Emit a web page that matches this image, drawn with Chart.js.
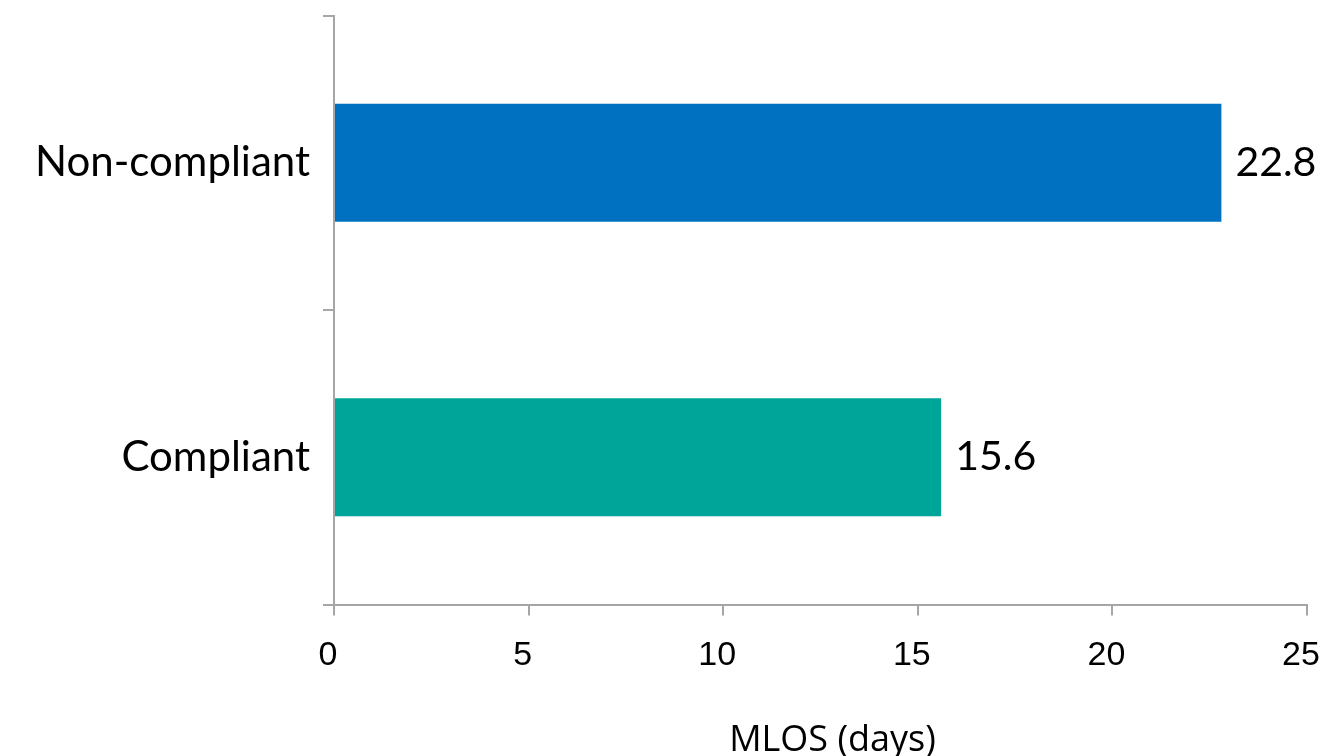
<!DOCTYPE html>
<html><head><meta charset="utf-8">
<script src="https://cdn.jsdelivr.net/npm/chart.js@4"></script>
<style>
html,body{margin:0;padding:0;overflow:hidden;background:#fff;}
#wrap{position:relative;width:1327px;height:756px;}
</style></head>
<body><div id="wrap"><canvas id="c"></canvas></div>
<script>
const categories = ["Non-compliant", "Compliant"];
const mlosDays = [22.8, 15.6];
const barColors = ["#0070C0", "#00A599"];
const xTicks = [0, 5, 10, 15, 20, 25];
const axisTitle = "MLOS (days)";

const valueLabels = {
  id: 'valueLabels',
  afterDatasetsDraw(chart) {
    const ctx = chart.ctx;
    const meta = chart.getDatasetMeta(0);
    ctx.save();
    ctx.font = '41px Lato';
    ctx.fillStyle = '#000';
    ctx.textAlign = 'left';
    ctx.textBaseline = 'middle';
    meta.data.forEach((bar, i) => {
      ctx.fillText(String(mlosDays[i]), bar.x + 14, bar.y);
    });
    ctx.restore();
  }
};
const xTitle = {
  id: 'xTitle',
  afterDraw(chart) {
    const ctx = chart.ctx, a = chart.chartArea;
    ctx.save();
    ctx.font = '36px "Open Sans"';
    ctx.fillStyle = '#000';
    ctx.textAlign = 'center';
    ctx.textBaseline = 'middle';
    ctx.fillText(axisTitle, (a.left + a.right) / 2 + 12, a.bottom + 136);
    ctx.restore();
  }
};

new Chart(document.getElementById('c'), {
  type: 'bar',
  data: {
    labels: categories,
    datasets: [{ data: mlosDays, backgroundColor: barColors, barPercentage: 0.4, categoryPercentage: 1.0 }]
  },
  options: {
    indexAxis: 'y',
    responsive: true,
    maintainAspectRatio: false,
    animation: false,
    layout: { padding: { top: 15.5, right: 20, bottom: 0, left: 0 } },
    plugins: { legend: { display: false }, tooltip: { enabled: false } },
    scales: {
      x: {
        min: 0, max: 25,
        afterBuildTicks(s) { s.ticks = xTicks.map(v => ({ value: v })); },
        afterFit(s) { s.height = 151.5; s.paddingLeft = 0; s.paddingRight = 0; },
        grid: { drawOnChartArea: false, drawTicks: true, tickLength: 11, color: '#a6a6a6', lineWidth: 2 },
        border: { color: '#a6a6a6', width: 2 },
        ticks: { font: { family: '"Liberation Sans"', size: 34 }, color: '#000', padding: 20, maxRotation: 0, labelOffset: -6 }
      },
      y: {
        afterFit(s) { s.width = 334; s.paddingTop = 0; s.paddingBottom = 0; },
        grid: { offset: true, drawOnChartArea: false, drawTicks: true, tickLength: 11, color: '#a6a6a6', lineWidth: 2 },
        border: { color: '#a6a6a6', width: 2 },
        ticks: { font: { family: 'Lato', size: 42 }, color: '#000', padding: 13 }
      }
    }
  },
  plugins: [valueLabels, xTitle]
});
</script></body></html>
